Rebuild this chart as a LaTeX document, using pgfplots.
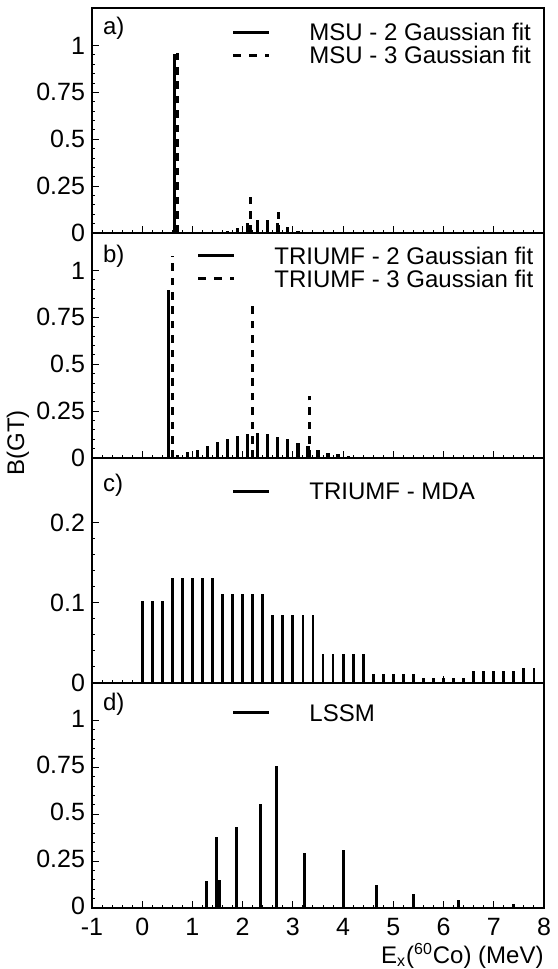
\documentclass[border=0pt]{standalone}
\usepackage{fontspec}
\setmainfont{Liberation Sans}
\usepackage{pgfplots}
\pgfplotsset{compat=1.18}

\pgfplotsset{
  panel/.style={
    scale only axis, width=226pt, height=112.5pt,
    xmin=-1, xmax=8,
    axis line style={line width=0.8pt},
    tick align=inside, tick pos=left,
    xtick={-1,0,...,8}, minor x tick num=4,
    minor y tick num=4,
    major tick length=3.3pt, minor tick length=1.7pt,
    tick style={line width=0.5pt, black},
    tick label style={font=\fontsize{12.5}{14}\selectfont},
    /pgf/number format/assume math mode=true,
    legend style={draw=none, fill=none, inner sep=0pt, outer sep=0pt,
      row sep=0pt, column sep=0pt, anchor=north west,
      nodes={inner sep=0pt, text height=10pt, text depth=1.5pt},
      font=\fontsize{12}{14}\selectfont},
    legend cell align=left,
    legend image code/.code={\draw[##1] (0pt,0pt) -- (18pt,0pt);
      \path[draw=none] (0pt,0pt) -- (38pt,0pt);},
  },
  big/.style={ymin=0, ymax=1.2, ytick={0,0.25,0.5,0.75,1},
    yticklabels={0,0.25,0.5,0.75,1}},
  solidbar/.style={ycomb, black, line width=1.6pt, forget plot},
  dashbar/.style={ycomb, black, line width=1.6pt,
    dash pattern=on 3.8pt off 3.4pt, forget plot},
  legsolid/.style={black, line width=1.5pt},
  legdash/.style={black, line width=1.5pt, dash pattern=on 3.8pt off 4.2pt},
}

\begin{document}
\begin{tikzpicture}[font=\fontsize{12}{14}\selectfont]
\useasboundingbox (-46pt,4pt) rectangle (232.5pt,-480.5pt);

% a) MSU
\begin{axis}[panel, big, at={(0pt,0pt)}, anchor=north west,
  xticklabels={}, legend style={at={(0.3097,0.944)}}]
\addplot[solidbar] coordinates {(0.64,0.957) (1.5,0.006) (1.7,0.011)
  (1.9,0.029) (2.1,0.054) (2.3,0.068) (2.5,0.068) (2.7,0.055)
  (2.9,0.032) (3.1,0.012)};
\addplot[dashbar] coordinates {(0.70,0.99) (2.15,0.19) (2.72,0.114)};
\addlegendimage{legsolid}
\addlegendentry{MSU - 2 Gaussian fit}
\addlegendimage{legdash}
\addlegendentry{MSU - 3 Gaussian fit}
\node[anchor=base west, inner sep=0pt] at (rel axis cs:0.0236,0.88) {a)};
\end{axis}

% b) TRIUMF fits
\begin{axis}[panel, big, at={(0pt,-112.5pt)}, anchor=north west,
  xticklabels={}, legend style={at={(0.2323,0.949)}}]
\addplot[solidbar] coordinates {(0.53,0.894) (0.7,0.018) (0.9,0.032)
  (1.1,0.045) (1.3,0.065) (1.5,0.085) (1.7,0.102) (1.9,0.118)
  (2.1,0.129) (2.3,0.132) (2.5,0.128) (2.7,0.114) (2.9,0.101)
  (3.1,0.082) (3.3,0.062) (3.5,0.045) (3.7,0.028) (3.9,0.022)
  (4.1,0.010) (4.3,0.006) (4.5,0.003)};
\addplot[dashbar] coordinates {(0.61,1.08) (2.19,0.839) (3.33,0.333)};
\addlegendimage{legsolid}
\addlegendentry{TRIUMF - 2 Gaussian fit}
\addlegendimage{legdash}
\addlegendentry{TRIUMF - 3 Gaussian fit}
\node[anchor=base west, inner sep=0pt] at (rel axis cs:0.0236,0.871) {b)};
\end{axis}

% c) TRIUMF MDA
\begin{axis}[panel, at={(0pt,-225pt)}, anchor=north west,
  ymin=0, ymax=0.281, ytick={0,0.1,0.2}, yticklabels={0,0.1,0.2},
  xticklabels={}, legend style={at={(0.3097,0.904)}}]
\addplot[solidbar, line width=1.4pt] coordinates {
  (0.0,0.102) (0.2,0.102) (0.4,0.102)
  (0.6,0.131) (0.8,0.131) (1.0,0.131) (1.2,0.131) (1.4,0.131)
  (1.6,0.111) (1.8,0.111) (2.0,0.111) (2.2,0.111) (2.4,0.111)
  (2.6,0.085) (2.8,0.085) (3.0,0.085) (3.2,0.085) (3.4,0.085)
  (3.6,0.036) (3.8,0.036) (4.0,0.036) (4.2,0.036) (4.4,0.036)
  (4.6,0.011) (4.8,0.011) (5.0,0.011) (5.2,0.011) (5.4,0.011)
  (5.6,0.006) (5.8,0.006) (6.0,0.006) (6.2,0.006) (6.4,0.006)
  (6.6,0.0145) (6.8,0.0145) (7.0,0.0145) (7.2,0.0145) (7.4,0.0145)
  (7.6,0.019) (7.8,0.019) (8.0,0.019)};
\addlegendimage{legsolid}
\addlegendentry{TRIUMF - MDA}
\node[anchor=base west, inner sep=0pt] at (rel axis cs:0.0236,0.849) {c)};
\end{axis}

% d) LSSM
\begin{axis}[panel, big, at={(0pt,-337.5pt)}, anchor=north west,
  xticklabels={-1,0,1,2,3,4,5,6,7,8},
  xticklabel style={yshift=-1.5pt},
  yticklabel style={yshift=1pt},
  xlabel={E\textsubscript{x}(\textsuperscript{60}Co) (MeV)},
  xlabel style={at={(1,0)}, anchor=base east, yshift=-27.5pt, inner sep=0pt},
  legend style={at={(0.3097,0.918)}}]
\addplot[solidbar, line width=1.5pt] coordinates {(1.285,0.144)
  (1.47,0.378) (1.54,0.152) (1.87,0.431) (2.35,0.556) (2.68,0.759)
  (3.24,0.296) (4.01,0.308) (4.67,0.125) (5.40,0.077) (6.30,0.045)
  (7.39,0.020)};
\addlegendimage{legsolid}
\addlegendentry{LSSM}
\node[anchor=base west, inner sep=0pt] at (rel axis cs:0.0236,0.88) {d)};
\end{axis}

\node[rotate=90] at (-37pt,-217.5pt) {B(GT)};
\end{tikzpicture}
\end{document}
